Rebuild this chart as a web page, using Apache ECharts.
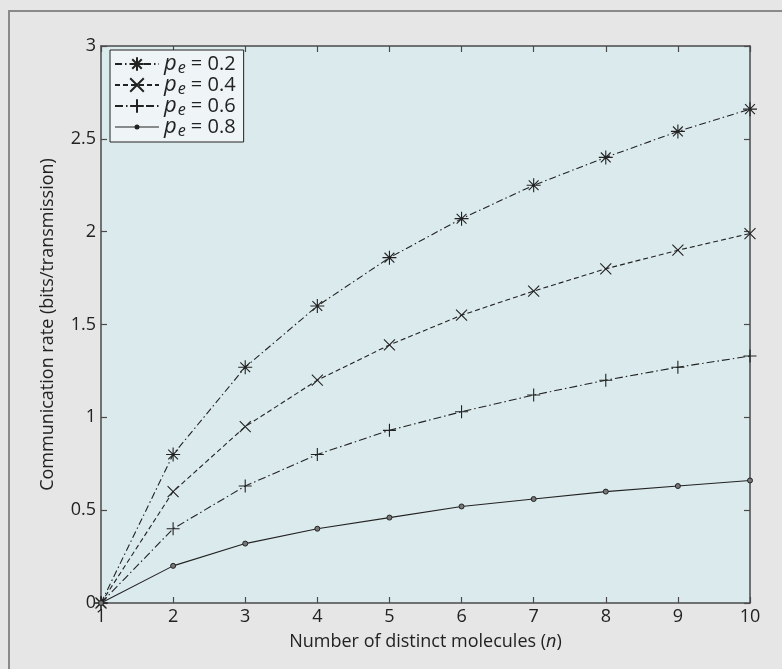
<!DOCTYPE html>
<html>
<head>
<meta charset="utf-8">
<script src="https://cdn.jsdelivr.net/npm/echarts@6/dist/echarts.min.js"></script>
<style>
html,body{margin:0;padding:0;background:#e6e6e6;}
#frame{position:absolute;left:8px;top:10px;width:774px;height:659px;border-top:2px solid #8a8a8a;border-left:2px solid #8a8a8a;box-sizing:border-box;}
#chart{position:absolute;left:0;top:0;width:782px;height:669px;}
</style>
</head>
<body>
<div id="frame"></div>
<div id="chart"></div>
<script>
const nValues = [1, 2, 3, 4, 5, 6, 7, 8, 9, 10];
const seriesNames = ['pe = 0.2', 'pe = 0.4', 'pe = 0.6', 'pe = 0.8'];
const legendValues = ['0.2', '0.4', '0.6', '0.8'];
const rate02 = [0, 0.80, 1.27, 1.60, 1.86, 2.07, 2.25, 2.40, 2.54, 2.66];
const rate04 = [0, 0.60, 0.95, 1.20, 1.39, 1.55, 1.68, 1.80, 1.90, 1.99];
const rate06 = [0, 0.40, 0.63, 0.80, 0.93, 1.03, 1.12, 1.20, 1.27, 1.33];
const rate08 = [0, 0.20, 0.32, 0.40, 0.46, 0.52, 0.56, 0.60, 0.63, 0.66];
const yTicks = ['0', '0.5', '1', '1.5', '2', '2.5', '3'];

const FONT = '"Open Sans", "Noto Sans", sans-serif';
const INK = '#222';
const AX = '#4a4a4a';

const symAsterisk = 'path://M5,0L5,10M0,5L10,5M1.5,1.5L8.5,8.5M1.5,8.5L8.5,1.5';
const symCross = 'path://M0,0L10,10M0,10L10,0';
const symPlus = 'path://M5,0L5,10M0,5L10,5';
const legendDotIcon = 'path://M0,6.5L44,6.5L44,7.5L0,7.5Z M24.5,7A2.5,2.5 0 1 1 19.5,7A2.5,2.5 0 1 1 24.5,7Z';

function pairs(arr) { return nValues.map((n, i) => [n, arr[i]]); }

const styles = [
  { data: rate02, symbol: symAsterisk, size: 14, dash: [7, 3, 1.5, 3] },
  { data: rate04, symbol: symCross, size: 11, dash: [5, 3] },
  { data: rate06, symbol: symPlus, size: 13, dash: [8, 3, 1.5, 3] },
  { data: rate08, symbol: 'circle', size: 5, dash: 'solid' }
];

const series = styles.map((s, i) => ({
  name: seriesNames[i],
  type: 'line',
  data: pairs(s.data),
  symbol: s.symbol,
  symbolSize: s.size,
  showAllSymbol: true,
  clip: false,
  lineStyle: { color: INK, width: 1.1, type: s.dash },
  itemStyle: s.symbol === 'circle'
    ? { color: '#777', borderColor: INK, borderWidth: 1 }
    : { color: 'transparent', borderColor: INK, borderWidth: 1.1 },
  emphasis: { disabled: true },
  animation: false
}));

const legendData = seriesNames.map((nm, i) => i === 3
  ? { name: nm, icon: legendDotIcon, itemStyle: { color: INK, borderWidth: 0 } }
  : { name: nm });

const chart = echarts.init(document.getElementById('chart'));
chart.setOption({
  backgroundColor: 'transparent',
  animation: false,
  grid: { left: 101, right: 32, top: 46, bottom: 66, show: true, backgroundColor: '#dbeaed', borderWidth: 0 },
  legend: {
    left: 110, top: 50,
    orient: 'vertical',
    backgroundColor: '#eff5f6',
    borderColor: INK, borderWidth: 1, borderRadius: 0,
    padding: [2, 8, 3, 4],
    itemWidth: 44, itemHeight: 17, itemGap: -3,
    symbolKeepAspect: true,
    data: legendData,
    formatter: function (name) {
      const i = seriesNames.indexOf(name);
      return '{p|p}{s|e}{t| = ' + legendValues[i] + '}';
    },
    textStyle: {
      fontFamily: FONT, color: INK, fontSize: 20, lineHeight: 18,
      rich: {
        p: { fontFamily: FONT, fontStyle: 'italic', fontSize: 22, color: INK, lineHeight: 18 },
        s: { fontFamily: FONT, fontStyle: 'italic', fontSize: 16, color: INK, lineHeight: 10, padding: [8, 0, 0, 1] },
        t: { fontFamily: FONT, fontSize: 20, color: INK, lineHeight: 18 }
      }
    }
  },
  xAxis: [{
    type: 'value', min: 1, max: 10, interval: 1,
    name: '{a|Number of distinct molecules (}{i|n}{a|)}',
    nameLocation: 'middle', nameGap: 30,
    nameTextStyle: { rich: {
      a: { fontFamily: FONT, fontSize: 18, color: INK },
      i: { fontFamily: FONT, fontSize: 18, color: INK, fontStyle: 'italic' }
    } },
    axisLine: { show: true, lineStyle: { color: AX, width: 1.5 } },
    axisTick: { show: true, inside: true, length: 6, lineStyle: { color: AX, width: 1.2 } },
    axisLabel: { fontFamily: FONT, fontSize: 18, color: INK, margin: 5 },
    splitLine: { show: false }
  }, {
    type: 'value', min: 1, max: 10, interval: 1, position: 'top',
    axisLine: { show: true, onZero: false, lineStyle: { color: AX, width: 1.5 } },
    axisTick: { show: true, inside: true, length: 6, lineStyle: { color: AX, width: 1.2 } },
    axisLabel: { show: false },
    splitLine: { show: false }
  }],
  yAxis: [{
    type: 'value', min: 0, max: 3, interval: 0.5,
    name: 'Communication rate (bits/transmission)',
    nameLocation: 'middle', nameGap: 44,
    nameTextStyle: { fontFamily: FONT, fontSize: 18, color: INK },
    axisLine: { show: true, lineStyle: { color: AX, width: 1.5 } },
    axisTick: { show: true, inside: true, length: 6, lineStyle: { color: AX, width: 1.2 } },
    axisLabel: { fontFamily: FONT, fontSize: 18, color: INK, margin: 5,
      formatter: function (v) { return yTicks[Math.round(v / 0.5)]; } },
    splitLine: { show: false }
  }, {
    type: 'value', min: 0, max: 3, interval: 0.5, position: 'right',
    axisLine: { show: true, onZero: false, lineStyle: { color: AX, width: 1.5 } },
    axisTick: { show: true, inside: true, length: 6, lineStyle: { color: AX, width: 1.2 } },
    axisLabel: { show: false },
    splitLine: { show: false }
  }],
  series: series
});
</script>
</body>
</html>
